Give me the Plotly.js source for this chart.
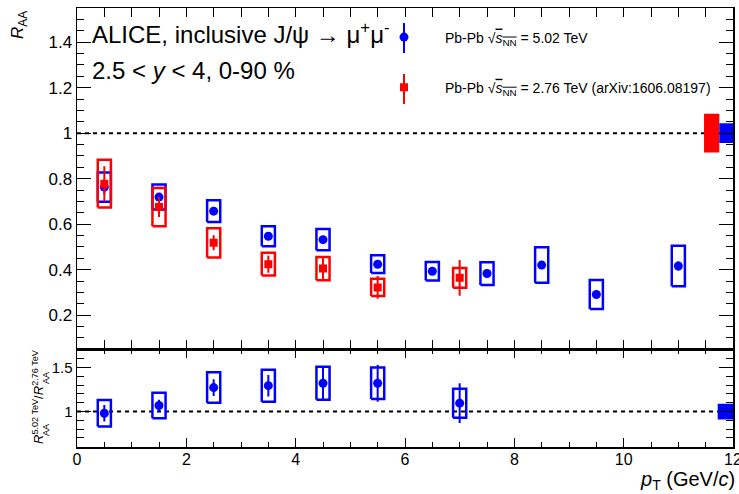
<!DOCTYPE html>
<html><head><meta charset="utf-8">
<script src="https://cdn.plot.ly/plotly-3.0.1.min.js"></script>
<style>body{margin:0;padding:0;background:#fff}#chart{width:739px;height:494px}</style>
</head><body><div id="chart"></div>
<script>
// ---- data ----
const pt502 = [0.5, 1.5, 2.5, 3.5, 4.5, 5.5, 6.5, 7.5, 8.5, 9.5, 11];
const raa502 = [0.763, 0.719, 0.657, 0.547, 0.532, 0.424, 0.393, 0.383, 0.420, 0.291, 0.416];
const raa502Stat = [0.03, 0.015, 0.012, 0.012, 0.012, 0.012, 0.012, 0.012, 0.015, 0.015, 0.02];
const raa502Syst = [0.064, 0.055, 0.048, 0.044, 0.047, 0.039, 0.041, 0.050, 0.078, 0.064, 0.089];

const pt276 = [0.5, 1.5, 2.5, 3.5, 4.5, 5.5, 7];
const raa276 = [0.778, 0.675, 0.518, 0.424, 0.405, 0.322, 0.364];
const raa276Stat = [0.077, 0.044, 0.033, 0.038, 0.05, 0.05, 0.079];
const raa276Syst = [0.105, 0.084, 0.064, 0.050, 0.051, 0.038, 0.043];

const ptRatio = [0.5, 1.5, 2.5, 3.5, 4.5, 5.5, 7];
const ratio = [0.98, 1.068, 1.273, 1.295, 1.322, 1.322, 1.095];
const ratioStat = [0.095, 0.067, 0.095, 0.123, 0.19, 0.21, 0.227];
const ratioSyst = [0.15, 0.146, 0.174, 0.183, 0.189, 0.18, 0.165];

const globalUnc502 = 0.043;
const globalUnc276 = 0.085;
const globalUncRatio = 0.09;

const xTickVals = [0, 2, 4, 6, 8, 10, 12];

// ---- styling ----
const FONT = 'Liberation Sans, Arial, Helvetica, sans-serif';
const BLUE = '#0000ff', RED = '#ff0000';
const HW = 0.12; // half width of syst boxes

function boxPath(xs, ys, es) {
  const X = [], Y = [];
  xs.forEach((x, i) => {
    const lo = ys[i] - es[i], hi = ys[i] + es[i];
    X.push(x - HW, x + HW, x + HW, x - HW, x - HW, null);
    Y.push(lo, lo, hi, hi, lo, null);
  });
  return {X, Y};
}
function boxTrace(xs, ys, es, color, yaxis) {
  const p = boxPath(xs, ys, es);
  return {x: p.X, y: p.Y, mode: 'lines', line: {color: color, width: 2.5}, yaxis: yaxis,
          showlegend: false, hoverinfo: 'skip'};
}
function globalBox(x0, x1, c, e, color, yaxis) {
  return {x: [x0, x1, x1, x0, x0], y: [c - e, c - e, c + e, c + e, c - e], mode: 'lines',
          fill: 'toself', fillcolor: color, line: {color: color, width: 0}, yaxis: yaxis,
          showlegend: false, hoverinfo: 'skip'};
}

const sNN = "<span style='text-decoration:overline'><i>s</i><sub>NN</sub></span>";
const traces = [
  boxTrace(pt502, raa502, raa502Syst, BLUE, 'y'),
  {x: pt502, y: raa502, mode: 'markers', yaxis: 'y', name: 'Pb-Pb √' + sNN + ' = 5.02 TeV',
   legendgroup: 'a', marker: {symbol: 'circle', size: 9, color: BLUE},
   error_y: {type: 'data', array: raa502Stat, color: BLUE, thickness: 2, width: 0}},
  boxTrace(pt276, raa276, raa276Syst, RED, 'y'),
  {x: pt276, y: raa276, mode: 'markers', yaxis: 'y', name: 'Pb-Pb √' + sNN + ' = 2.76 TeV (arXiv:1606.08197)',
   legendgroup: 'b', marker: {symbol: 'square', size: 8, color: RED},
   error_y: {type: 'data', array: raa276Stat, color: RED, thickness: 2, width: 0}},
  globalBox(11.47, 11.75, 1, globalUnc276, RED, 'y'),
  globalBox(11.75, 12, 1, globalUnc502, BLUE, 'y'),
  boxTrace(ptRatio, ratio, ratioSyst, BLUE, 'y2'),
  {x: ptRatio, y: ratio, mode: 'markers', yaxis: 'y2', showlegend: false,
   marker: {symbol: 'circle', size: 9, color: BLUE},
   error_y: {type: 'data', array: ratioStat, color: BLUE, thickness: 2, width: 0}},
  globalBox(11.72, 12, 1, globalUncRatio, BLUE, 'y2')
];

// pixel -> paper helpers (plot area: x 77..733, y 8..447)
const L = 77, R = 733, T = 8, B = 447;
const px = v => (v - L) / (R - L);
const py = v => (B - v) / (B - T);
const split = py(349.3);

const axisCommon = {showline: true, linecolor: '#000', linewidth: 1.5, ticks: 'inside', tickcolor: '#000',
  tickwidth: 1, showgrid: false, zeroline: false, tickfont: {family: FONT, size: 16, color: '#000'}};

const layout = {
  width: 739, height: 494,
  margin: {l: L, r: 739 - R, t: T, b: 494 - B},
  paper_bgcolor: '#fff', plot_bgcolor: '#fff',
  font: {family: FONT, color: '#000'},
  showlegend: true,
  legend: {x: px(363), xanchor: 'left', y: py(21.5), yanchor: 'top', bgcolor: 'rgba(0,0,0,0)',
           borderwidth: 0, font: {family: FONT, size: 14, color: '#000'}, itemwidth: 72,
           tracegroupgap: 29, traceorder: 'grouped'},
  xaxis: Object.assign({}, axisCommon, {range: [0, 12], anchor: 'y2', mirror: 'allticks',
     tickmode: 'array', tickvals: xTickVals, ticklen: 9, ticklabeloverflow: 'allow', ticklabelstandoff: -3,
     minor: {dtick: 0.5, tick0: 0, ticklen: 5, ticks: 'inside', tickcolor: '#000', showgrid: false}}),
  yaxis: Object.assign({}, axisCommon, {domain: [split, 1], range: [0.05, 1.55], anchor: 'x', mirror: 'ticks',
     dtick: 0.2, tick0: 0, ticklen: 14, tickfont: {family: FONT, size: 17, color: '#000'},
     minor: {dtick: 0.05, tick0: 0, ticklen: 7, ticks: 'inside', tickcolor: '#000', showgrid: false}}),
  yaxis2: Object.assign({}, axisCommon, {domain: [0, split], range: [0.595, 1.71], anchor: 'x', mirror: 'ticks',
     dtick: 0.5, tick0: 0, ticklen: 14, tickfont: {family: FONT, size: 15, color: '#000'},
     minor: {dtick: 0.1, tick0: 0, ticklen: 7, ticks: 'inside', tickcolor: '#000', showgrid: false}}),
  shapes: [
    {type: 'line', xref: 'x', yref: 'y', x0: 0, x1: 12, y0: 1, y1: 1, layer: 'below',
     line: {color: '#000', width: 2, dash: '4px,4px'}},
    {type: 'line', xref: 'x', yref: 'y2', x0: 0, x1: 12, y0: 1, y1: 1, layer: 'below',
     line: {color: '#000', width: 2, dash: '4px,4px'}},
    // legend stat-error bars
    {type: 'line', xref: 'paper', yref: 'paper', x0: px(404), x1: px(404), y0: py(23), y1: py(53),
     line: {color: BLUE, width: 2}},
    {type: 'line', xref: 'paper', yref: 'paper', x0: px(404), x1: px(404), y0: py(74), y1: py(104),
     line: {color: RED, width: 2}}
  ],
  annotations: [
    {xref: 'paper', yref: 'paper', x: px(90), y: py(33), xanchor: 'left', yanchor: 'middle', showarrow: false,
     text: 'ALICE, inclusive J/ψ → μ<sup>+</sup>μ<sup>-</sup>', font: {family: FONT, size: 24, color: '#000'}},
    {xref: 'paper', yref: 'paper', x: px(90), y: py(71), xanchor: 'left', yanchor: 'middle', showarrow: false,
     text: '2.5 &lt; <i>y</i> &lt; 4, 0-90 %', font: {family: FONT, size: 24, color: '#000'}},
    {xref: 'paper', yref: 'paper', x: px(19), y: py(25), xanchor: 'center', yanchor: 'middle', showarrow: false,
     textangle: -90, text: '<i>R</i><sub>AA</sub>', font: {family: FONT, size: 17, color: '#000'}},
    {xref: 'paper', yref: 'paper', x: px(38), y: py(397), xanchor: 'center', yanchor: 'middle', showarrow: false,
     textangle: -90, text: '<i>R</i><sup>5.02 TeV</sup>/<i>R</i><sup>2.76 TeV</sup>', font: {family: FONT, size: 13, color: '#000'}},
    {xref: 'paper', yref: 'paper', x: px(46), y: py(430), xanchor: 'center', yanchor: 'middle', showarrow: false,
     textangle: -90, text: 'AA', font: {family: FONT, size: 9, color: '#000'}},
    {xref: 'paper', yref: 'paper', x: px(46), y: py(378), xanchor: 'center', yanchor: 'middle', showarrow: false,
     textangle: -90, text: 'AA', font: {family: FONT, size: 9, color: '#000'}},
    {xref: 'paper', yref: 'paper', x: px(737), y: py(481), xanchor: 'right', yanchor: 'middle', showarrow: false,
     text: '<i>p</i><sub>T</sub> (GeV/<i>c</i>)', font: {family: FONT, size: 20, color: '#000'}}
  ]
};

Plotly.newPlot('chart', traces, layout, {displayModeBar: false, staticPlot: true});
</script>
</body></html>
